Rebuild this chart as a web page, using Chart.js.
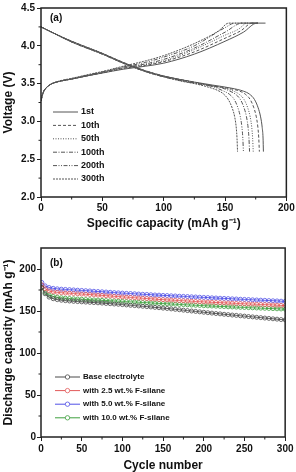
<!DOCTYPE html>
<html>
<head>
<meta charset="utf-8">
<script src="https://cdn.jsdelivr.net/npm/chart.js@4.4.1/dist/chart.umd.min.js"></script>
<style>
  html, body { margin: 0; padding: 0; background: #fff; overflow: hidden; }
  #wrap { position: relative; width: 296px; height: 472px; overflow: hidden; }
  #topChart { position: absolute; left: 0; top: 0; }
  #botChart { position: absolute; left: 0; top: 230px; }
</style>
</head>
<body>
<div id="wrap">
  <canvas id="topChart" width="296" height="236"></canvas>
  <canvas id="botChart" width="296" height="246"></canvas>
</div>
<script>
// ---- (a) charge / discharge profiles: [capacity mAh/g, voltage V] ----
const cycleLabels = ['1st', '10th', '50th', '100th', '200th', '300th'];

const charge1st   = [[0,3.27],[1,3.34],[2,3.39],[4,3.44],[6,3.47],[9,3.5],[15,3.53],[25,3.56],[40,3.61],[50,3.64],[67,3.69],[85,3.73],[100,3.77],[125,3.89],[150,4.06],[165,4.18],[176,4.3],[183,4.3]];
const charge10th  = [[0,3.27],[1,3.34],[2,3.39],[4,3.44],[6,3.47],[9,3.5],[15,3.53],[25,3.56],[40,3.61],[50,3.64],[67,3.7],[85,3.74],[100,3.79],[125,3.92],[150,4.1],[163,4.2],[172,4.3],[177,4.3]];
const charge50th  = [[0,3.27],[1,3.34],[2,3.39],[4,3.44],[6,3.47],[9,3.5],[15,3.53],[25,3.56],[40,3.61],[50,3.645],[67,3.705],[85,3.75],[100,3.8],[125,3.95],[150,4.14],[161,4.22],[168,4.3],[177,4.3]];
const charge100th = [[0,3.27],[1,3.34],[2,3.39],[4,3.44],[6,3.47],[9,3.5],[15,3.53],[25,3.56],[40,3.615],[50,3.65],[67,3.71],[85,3.76],[100,3.82],[125,3.97],[150,4.18],[164,4.3],[177,4.3]];
const charge200th = [[0,3.27],[1,3.34],[2,3.39],[4,3.44],[6,3.47],[9,3.5],[15,3.53],[25,3.565],[40,3.62],[50,3.655],[67,3.72],[85,3.78],[100,3.85],[125,4.0],[150,4.24],[158,4.3],[177,4.3]];
const charge300th = [[0,3.27],[1,3.34],[2,3.39],[4,3.44],[6,3.47],[9,3.5],[15,3.535],[25,3.57],[40,3.625],[50,3.66],[67,3.73],[85,3.8],[100,3.87],[125,4.03],[145,4.2],[153,4.3],[177,4.3]];

const discharge1st   = [[0,4.25],[10,4.17],[25,4.06],[50,3.9],[67,3.78],[85,3.67],[100,3.6],[125,3.52],[140,3.48],[155,3.44],[165,3.4],[170,3.36],[174,3.29],[177,3.18],[179,3.06],[180.3,2.92],[181,2.78],[181.3,2.6]];
const discharge10th  = [[0,4.25],[10,4.17],[25,4.06],[50,3.9],[67,3.78],[85,3.67],[100,3.6],[125,3.52],[140,3.47],[155,3.43],[162,3.4],[166.5,3.36],[170.5,3.29],[173.5,3.18],[175.5,3.06],[176.8,2.92],[177.5,2.78],[178,2.6]];
const discharge50th  = [[0,4.25],[10,4.17],[25,4.06],[50,3.9],[67,3.77],[85,3.67],[100,3.6],[125,3.51],[140,3.47],[150,3.44],[157,3.4],[161.5,3.36],[165.5,3.29],[168.5,3.18],[170.5,3.06],[171.8,2.92],[172.5,2.78],[173,2.6]];
const discharge100th = [[0,4.25],[10,4.17],[25,4.05],[50,3.89],[67,3.77],[85,3.66],[100,3.59],[125,3.51],[138,3.47],[148,3.44],[154,3.4],[158.5,3.36],[162.5,3.29],[165.5,3.18],[167.5,3.06],[168.8,2.92],[169.5,2.78],[170,2.6]];
const discharge200th = [[0,4.25],[10,4.17],[25,4.05],[50,3.89],[67,3.77],[85,3.66],[100,3.59],[120,3.52],[140,3.46],[149,3.4],[153.5,3.36],[157.5,3.29],[160.5,3.18],[162.5,3.06],[163.8,2.92],[164.5,2.78],[165,2.6]];
const discharge300th = [[0,4.25],[10,4.17],[25,4.05],[50,3.89],[67,3.77],[85,3.66],[100,3.59],[115,3.53],[125,3.5],[135,3.46],[144,3.41],[149,3.36],[153,3.28],[156,3.17],[158,3.05],[159.2,2.91],[159.8,2.77],[160.2,2.6]];

// ---- (b) cycling ----
const cycles = [1,5,10,15,20,25,30,35,40,45,50,55,60,65,70,75,80,85,90,95,100,105,110,115,120,125,130,135,140,145,150,155,160,165,170,175,180,185,190,195,200,205,210,215,220,225,230,235,240,245,250,255,260,265,270,275,280,285,290,295,300];
const electrolyteLabels = ['Base electrolyte', 'with 2.5 wt.% F-silane', 'with 5.0 wt.% F-silane', 'with 10.0 wt.% F-silane'];
const baseCap = [178.0,170.5,166.5,164.6,163.5,162.8,162.3,161.9,161.5,161.2,160.9,160.6,160.3,160.0,159.7,159.4,159.0,158.7,158.3,158.0,157.6,157.2,156.8,156.4,156.0,155.6,155.2,154.8,154.3,153.9,153.4,153.0,152.5,152.0,151.5,151.0,150.5,150.0,149.5,149.0,148.5,148.0,147.5,147.0,146.6,146.1,145.7,145.2,144.8,144.3,143.9,143.4,143.0,142.5,142.1,141.6,141.2,140.7,140.3,139.8,139.4];
const fs25Cap = [181.0,176.5,174.0,172.8,172.2,171.8,171.4,171.1,170.8,170.5,170.2,169.9,169.6,169.2,168.9,168.6,168.2,167.9,167.5,167.2,166.8,166.5,166.2,165.8,165.5,165.2,164.8,164.5,164.2,163.8,163.5,163.2,163.0,162.7,162.4,162.2,161.9,161.6,161.3,161.1,160.8,160.6,160.4,160.1,159.9,159.7,159.5,159.3,159.0,158.8,158.6,158.4,158.2,158.0,157.8,157.6,157.4,157.2,156.9,156.7,156.5];
const fs50Cap = [184.0,180.0,178.0,177.0,176.4,176.0,175.7,175.4,175.1,174.8,174.5,174.2,173.9,173.5,173.2,172.9,172.6,172.3,171.9,171.6,171.3,171.0,170.8,170.5,170.2,169.9,169.7,169.4,169.1,168.9,168.6,168.4,168.1,167.9,167.6,167.4,167.2,166.9,166.7,166.4,166.2,166.0,165.7,165.5,165.2,165.0,164.8,164.5,164.3,164.0,163.8,163.6,163.3,163.1,162.9,162.7,162.4,162.2,162.0,161.7,161.5];
const fs100Cap = [177.5,172.0,169.0,167.4,166.4,165.8,165.3,164.9,164.6,164.3,164.0,163.7,163.5,163.2,163.0,162.7,162.5,162.2,162.0,161.7,161.5,161.2,160.9,160.7,160.4,160.1,159.9,159.6,159.3,159.1,158.8,158.6,158.3,158.1,157.8,157.6,157.3,157.1,156.8,156.6,156.3,156.1,155.9,155.7,155.5,155.3,155.0,154.8,154.6,154.4,154.2,154.0,153.8,153.6,153.4,153.2,153.0,152.8,152.6,152.4,152.2];

Chart.defaults.font.family = '"Liberation Sans", Arial, sans-serif';
Chart.defaults.color = '#111';

const toXY = pts => pts.map(p => ({ x: p[0], y: p[1] }));
const dashes = [[], [3, 2], [1, 1.5], [4, 1.5, 1, 1.5], [4, 1.5, 1, 1.5, 1, 1.5], [2, 1]];
const chargeSets = [charge1st, charge10th, charge50th, charge100th, charge200th, charge300th];
const dischargeSets = [discharge1st, discharge10th, discharge50th, discharge100th, discharge200th, discharge300th];

const topDatasets = [];
cycleLabels.forEach((lab, i) => {
    const style = {
        borderColor: '#555', borderWidth: 1, borderDash: dashes[i],
        pointRadius: 0, cubicInterpolationMode: 'monotone', fill: false
    };
    topDatasets.push(Object.assign({ label: lab, data: toXY(dischargeSets[i]) }, style));
    topDatasets.push(Object.assign({ label: lab + ' charge', data: toXY(chargeSets[i]), legendSkip: true }, style));
});

const seriesColors = ['#4a4a4a', '#e25a5a', '#5050e6', '#3fa03f'];
const capSets = [baseCap, fs25Cap, fs50Cap, fs100Cap];
const botDatasets = electrolyteLabels.map((lab, i) => ({
    label: lab,
    data: cycles.map((c, k) => ({ x: c, y: capSets[i][k] })),
    borderColor: seriesColors[i],
    backgroundColor: 'rgba(255,255,255,0)',
    borderWidth: 1,
    pointRadius: 2,
    pointBorderWidth: 0.8,
    pointStyle: 'circle',
    tension: 0.2,
    fill: false
}));

// frame, minor ticks, panel letter and inset legend
const panelExtras = {
    id: 'panelExtras',
    afterDatasetsDraw(chart, args, opts) {
        const { ctx, chartArea: a } = chart;
        ctx.save();
        ctx.strokeStyle = '#222';
        ctx.lineWidth = 1;
        ['x', 'y'].forEach(id => {
            const sc = chart.scales[id];
            const t = sc.ticks.map(tk => tk.value);
            for (let k = 0; k < t.length - 1; k++) {
                const p = sc.getPixelForValue((t[k] + t[k + 1]) / 2);
                ctx.beginPath();
                if (id === 'x') { ctx.moveTo(p, a.bottom); ctx.lineTo(p, a.bottom + 2.5); }
                else { ctx.moveTo(a.left, p); ctx.lineTo(a.left - 2.5, p); }
                ctx.stroke();
            }
        });
        ctx.lineWidth = 1.5;
        ctx.strokeRect(a.left, a.top, a.right - a.left, a.bottom - a.top);

        ctx.fillStyle = '#111';
        ctx.font = 'bold 10px "Liberation Sans", Arial, sans-serif';
        ctx.textBaseline = 'middle';
        ctx.textAlign = 'left';
        ctx.fillText(opts.letter, opts.letterX, opts.letterY);

        const lg = opts.legend;
        ctx.font = 'bold ' + lg.size + 'px "Liberation Sans", Arial, sans-serif';
        let row = 0;
        chart.data.datasets.forEach(ds => {
            if (ds.legendSkip) return;
            const y = lg.y0 + row * lg.dy;
            ctx.save();
            ctx.strokeStyle = ds.borderColor;
            ctx.lineWidth = 1;
            ctx.setLineDash(ds.borderDash || []);
            ctx.beginPath();
            ctx.moveTo(lg.x0, y);
            ctx.lineTo(lg.x1, y);
            ctx.stroke();
            ctx.setLineDash([]);
            if (ds.pointRadius) {
                ctx.fillStyle = '#fff';
                ctx.beginPath();
                ctx.arc((lg.x0 + lg.x1) / 2, y, 2.2, 0, Math.PI * 2);
                ctx.fill();
                ctx.lineWidth = 0.8;
                ctx.stroke();
            }
            ctx.restore();
            ctx.fillStyle = '#111';
            ctx.fillText(ds.label, lg.tx, y);
            row++;
        });
        ctx.restore();
    }
};

const tickFont = { size: 10, weight: 'bold' };
const titleFont = { size: 12, weight: 'bold' };

new Chart(document.getElementById('topChart'), {
    type: 'line',
    data: { datasets: topDatasets },
    options: {
        responsive: false,
        animation: false,
        devicePixelRatio: 1,
        layout: { padding: { left: 0, right: 9, top: 7, bottom: 0 } },
        scales: {
            x: {
                type: 'linear', min: 0, max: 200,
                ticks: { stepSize: 50, font: tickFont, padding: 1.3, maxRotation: 0 },
                grid: { drawOnChartArea: false, tickLength: 4, color: '#222' },
                border: { display: false },
                title: { display: true, text: 'Specific capacity (mAh g\u207B\u00B9)', font: titleFont, padding: { top: 0, bottom: 4.8 } },
                afterFit: s => { s.height = 39; }
            },
            y: {
                min: 2, max: 4.5,
                ticks: { stepSize: 0.5, font: tickFont, padding: 2, callback: v => v.toFixed(1) },
                grid: { drawOnChartArea: false, tickLength: 4, color: '#222' },
                border: { display: false },
                title: { display: true, text: 'Voltage (V)', font: titleFont, padding: { top: 1.1, bottom: 0 } },
                afterFit: s => { s.width = 41; }
            }
        },
        plugins: {
            legend: { display: false },
            tooltip: { enabled: false },
            panelExtras: {
                letter: '(a)', letterX: 50, letterY: 18,
                legend: { x0: 53, x1: 78, tx: 81, y0: 112, dy: 13.4, size: 9 }
            }
        }
    },
    plugins: [panelExtras]
});

new Chart(document.getElementById('botChart'), {
    type: 'line',
    data: { datasets: botDatasets },
    options: {
        responsive: false,
        animation: false,
        devicePixelRatio: 1,
        layout: { padding: { left: 0, right: 9, top: 18, bottom: 0 } },
        scales: {
            x: {
                type: 'linear', min: 0, max: 300,
                ticks: { stepSize: 50, font: tickFont, padding: 2.5, maxRotation: 0 },
                grid: { drawOnChartArea: false, tickLength: 4, color: '#222' },
                border: { display: false },
                title: { display: true, text: 'Cycle number', font: titleFont, padding: { top: 0, bottom: 2.8 } },
                afterFit: s => { s.height = 39; }
            },
            y: {
                min: 0, max: 225,
                ticks: { font: tickFont, padding: 1 },
                afterBuildTicks: s => { s.ticks = [0, 50, 100, 150, 200].map(v => ({ value: v })); },
                grid: { drawOnChartArea: false, tickLength: 4, color: '#222' },
                border: { display: false },
                title: { display: true, text: 'Discharge capacity (mAh g\u207B\u00B9)', font: titleFont, padding: { top: 1.1, bottom: 0 } },
                afterFit: s => { s.width = 41; }
            }
        },
        plugins: {
            legend: { display: false },
            tooltip: { enabled: false },
            panelExtras: {
                letter: '(b)', letterX: 50, letterY: 33,
                legend: { x0: 55, x1: 80, tx: 83, y0: 147, dy: 13.6, size: 8 }
            }
        }
    },
    plugins: [panelExtras]
});
</script>
</body>
</html>
